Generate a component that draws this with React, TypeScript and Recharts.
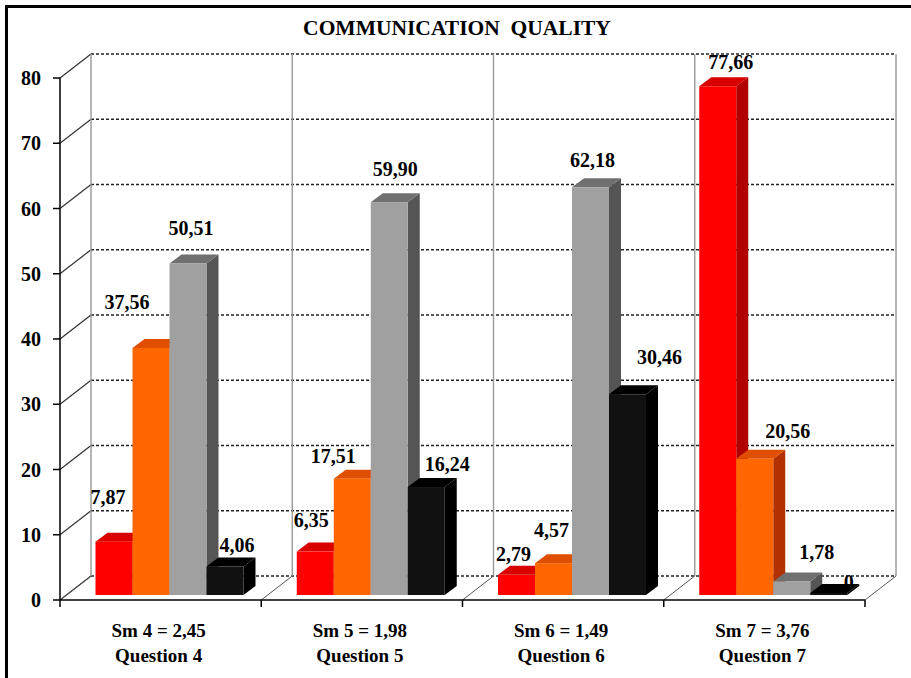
import { Bar, BarChart, CartesianGrid, LabelList, XAxis, YAxis } from "recharts";

const categories = ["Question 4", "Question 5", "Question 6", "Question 7"];
const means = ["Sm 4 = 2,45", "Sm 5 = 1,98", "Sm 6 = 1,49", "Sm 7 = 3,76"];
const redValues = [7.87, 6.35, 2.79, 77.66];
const orangeValues = [37.56, 17.51, 4.57, 20.56];
const greyValues = [50.51, 59.9, 62.18, 1.78];
const blackValues = [4.06, 16.24, 30.46, 0];
const yTicks = [0, 10, 20, 30, 40, 50, 60, 70, 80];

const data = categories.map((name, i) => ({
  name,
  mean: means[i],
  red: redValues[i],
  orange: orangeValues[i],
  grey: greyValues[i],
  black: blackValues[i],
}));

const FONT = "'Liberation Serif', 'Times New Roman', serif";
const WIDTH = 911;
const HEIGHT = 678;
const PLOT = { left: 60, right: 865, top: 78, bottom: 600 };
const BAND = (PLOT.right - PLOT.left) / categories.length;

// the back wall sits up and to the right of the axes
const WALL_DX = 31;
const WALL_DY = -24;
// bars stand a little inside the floor
const BAR_DX = 8.5;
const BAR_DY = -5;
const TOP_LIFT = 2;
const DEPTH_DX = 12;
const DEPTH_DY = -9;

const boundaries = [0, 1, 2, 3, 4].map((i) => PLOT.left + i * BAND);

// label position relative to the top centre of each bar, hand placed in the original
const redNudge = [[-6, -40], [-4, -27], [-3, -16], [13, -19]];
const orangeNudge = [[-24, -41], [-19, -18], [-2, -28], [33, -23]];
const greyNudge = [[3, -30], [6, -28], [2, -22], [25, -24]];
const blackNudge = [[12, -17], [21, -18], [32, -32], [20, -6]];

function Prism(props: any) {
  const { x, y, width, height, front, top, side } = props;
  const fx = x + BAR_DX;
  const fy = y + BAR_DY - TOP_LIFT;
  const r = fx + width;
  const b = y + BAR_DY + height;
  return (
    <g>
      <polygon
        points={`${r},${fy} ${r + DEPTH_DX},${fy + DEPTH_DY} ${r + DEPTH_DX},${b + DEPTH_DY} ${r},${b}`}
        fill={side}
      />
      <polygon
        points={`${fx},${fy} ${fx + DEPTH_DX},${fy + DEPTH_DY} ${r + DEPTH_DX},${fy + DEPTH_DY} ${r},${fy}`}
        fill={top}
      />
      <rect x={fx} y={fy} width={width} height={b - fy} fill={front} />
    </g>
  );
}

function barLabel(nudges: number[][]) {
  return (props: any) => {
    const { x, y, width, value, index } = props;
    const text = value === 0 ? "0" : Number(value).toFixed(2).replace(".", ",");
    return (
      <text
        x={x + BAR_DX + width / 2 + nudges[index][0]}
        y={y + BAR_DY + nudges[index][1]}
        textAnchor="middle"
        fontFamily={FONT}
        fontWeight="bold"
        fontSize={20}
        fill="#000"
      >
        {text}
      </text>
    );
  };
}

function WallLine(props: any) {
  const { x1, y1, x2, y2 } = props;
  return (
    <g>
      <line x1={x1} y1={y1} x2={x1 + WALL_DX} y2={y1 + WALL_DY} stroke="#333" strokeWidth={1.2} />
      <line
        x1={x1 + WALL_DX}
        y1={y1 + WALL_DY}
        x2={x2 + WALL_DX}
        y2={y2 + WALL_DY}
        stroke="#222"
        strokeWidth={1.4}
        strokeDasharray="3 2"
      />
    </g>
  );
}

function WallPost(props: any) {
  const { x1, y1, x2, y2 } = props;
  return (
    <g>
      <line
        x1={x1 + WALL_DX}
        y1={y1 + WALL_DY}
        x2={x2 + WALL_DX}
        y2={y2 + WALL_DY}
        stroke="#999"
        strokeWidth={1.4}
      />
      <line x1={x2} y1={y2} x2={x2 + WALL_DX} y2={y2 + WALL_DY} stroke="#555" strokeWidth={1} />
    </g>
  );
}

function CategoryTick(props: any) {
  const { x, y, payload, index } = props;
  const left = x - BAND / 2;
  return (
    <g>
      <line x1={left} y1={PLOT.bottom} x2={left} y2={PLOT.bottom + 7} stroke="#000" strokeWidth={1.5} />
      {index === categories.length - 1 && (
        <line x1={left + BAND} y1={PLOT.bottom} x2={left + BAND} y2={PLOT.bottom + 7} stroke="#000" strokeWidth={1.5} />
      )}
      <text x={x - 2} y={y + 29} textAnchor="middle" fontFamily={FONT} fontWeight="bold" fontSize={19} fill="#000">
        {data[index].mean}
      </text>
      <text x={x - 2} y={y + 54} textAnchor="middle" fontFamily={FONT} fontWeight="bold" fontSize={19} fill="#000">
        {payload.value}
      </text>
    </g>
  );
}

export default function App() {
  return (
    <div style={{ position: "absolute", left: 0, top: 0, width: WIDTH, height: HEIGHT, overflow: "hidden", background: "#fff" }}>
      <div
        style={{
          position: "absolute",
          left: 5,
          top: 5,
          width: 920,
          height: 680,
          borderLeft: "3px solid #000",
          borderTop: "3px solid #000",
        }}
      />
      <div
        style={{
          position: "absolute",
          left: 0,
          width: 914,
          top: 16,
          textAlign: "center",
          fontFamily: FONT,
          fontWeight: "bold",
          fontSize: 21.5,
          whiteSpace: "pre",
          color: "#000",
        }}
      >
        {"COMMUNICATION  QUALITY"}
      </div>
      <div style={{ position: "absolute", left: 0, top: 0 }}>
        <BarChart
          width={WIDTH}
          height={HEIGHT}
          data={data}
          margin={{ top: PLOT.top, right: WIDTH - PLOT.right, bottom: 0, left: 0 }}
          barSize={37}
          barGap={0}
        >
          <CartesianGrid
            horizontal={(p: any) => <WallLine key={p.key} {...p} />}
            vertical={(p: any) => <WallPost key={p.key} {...p} />}
            verticalPoints={boundaries}
          />
          <XAxis
            dataKey="name"
            height={HEIGHT - PLOT.bottom}
            interval={0}
            tickLine={false}
            axisLine={{ stroke: "#000", strokeWidth: 1.5 }}
            tick={<CategoryTick />}
          />
          <YAxis
            width={PLOT.left}
            domain={[0, 80]}
            ticks={yTicks}
            interval={0}
            axisLine={{ stroke: "#000", strokeWidth: 1.5 }}
            tickLine={{ stroke: "#000", strokeWidth: 1.5 }}
            tickSize={7}
            tickMargin={12}
            tick={{ fontFamily: FONT, fontWeight: "bold", fontSize: 20, fill: "#000" }}
          />
          <Bar dataKey="red" isAnimationActive={false} shape={<Prism front="#ff0000" top="#d90000" side="#b00000" />}>
            <LabelList dataKey="red" content={barLabel(redNudge)} />
          </Bar>
          <Bar dataKey="orange" isAnimationActive={false} shape={<Prism front="#ff6600" top="#e04f00" side="#b33000" />}>
            <LabelList dataKey="orange" content={barLabel(orangeNudge)} />
          </Bar>
          <Bar dataKey="grey" isAnimationActive={false} shape={<Prism front="#a0a0a0" top="#707070" side="#555555" />}>
            <LabelList dataKey="grey" content={barLabel(greyNudge)} />
          </Bar>
          <Bar dataKey="black" isAnimationActive={false} shape={<Prism front="#111111" top="#000000" side="#000000" />}>
            <LabelList dataKey="black" content={barLabel(blackNudge)} />
          </Bar>
        </BarChart>
      </div>
    </div>
  );
}
